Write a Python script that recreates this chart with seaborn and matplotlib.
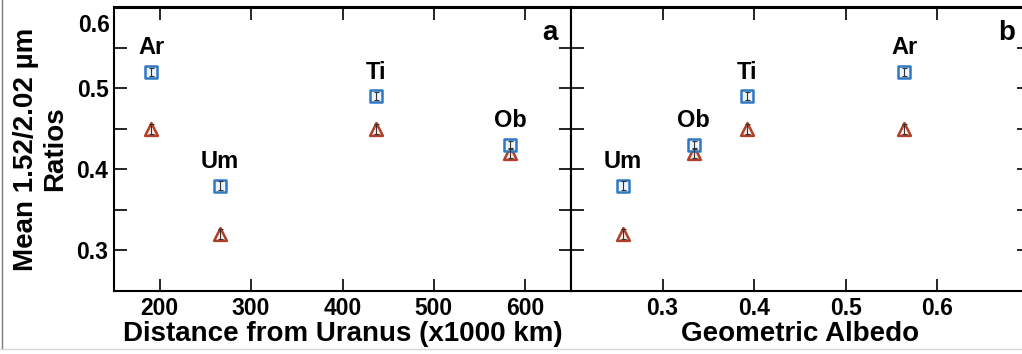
import matplotlib
matplotlib.use("Agg")
import matplotlib.pyplot as plt
from matplotlib.lines import Line2D
import seaborn as sns
import pandas as pd

sns.set_theme(style="white")
plt.rcParams["font.family"] = ["Liberation Sans", "DejaVu Sans"]
plt.rcParams["font.weight"] = "bold"
for key in ["text.color", "axes.labelcolor", "xtick.color", "ytick.color"]:
    plt.rcParams[key] = "black"

# Uranian moons
moons = ["Ar", "Um", "Ti", "Ob"]
distance_kkm = [190.9, 266.0, 436.3, 583.5]
geometric_albedo = [0.564, 0.257, 0.392, 0.334]
ratio_square = [0.52, 0.38, 0.49, 0.43]
ratio_triangle = [0.45, 0.32, 0.45, 0.42]
err_square = [0.005, 0.005, 0.005, 0.005]
err_triangle = [0.006, 0.006, 0.006, 0.006]

df = pd.DataFrame({
    "moon": moons,
    "distance": distance_kkm,
    "albedo": geometric_albedo,
    "sq": ratio_square,
    "tri": ratio_triangle,
    "sq_err": err_square,
    "tri_err": err_triangle,
})

BLUE = "#2f78c4"
RED = "#b0402a"
TICK_FS = 16.5
LABEL_FS = 20

fig = plt.figure(figsize=(10.22, 3.54), dpi=100)
W, H = 1022, 354
bottom_px, top_px = 291, 7
ax_a = fig.add_axes([114 / W, (H - bottom_px) / H, (571 - 114) / W, (bottom_px - top_px) / H])
# panel b runs slightly past the right edge of the canvas
ax_b = fig.add_axes([571 / W, (H - bottom_px) / H, (1029 - 571) / W, (bottom_px - top_px) / H])


def draw_panel(ax, xcol):
    for col, ecol, marker, color, face, size in [
        ("tri", "tri_err", "^", RED, "#fbeee6", 85),
        ("sq", "sq_err", "s", BLUE, "#eef4fb", 75),
    ]:
        ax.errorbar(df[xcol], df[col], yerr=df[ecol], fmt="none",
                    ecolor="#333333", elinewidth=0.8, capsize=1.8, capthick=0.8, zorder=4)
        sns.scatterplot(data=df, x=xcol, y=col, ax=ax, marker=marker, s=size,
                        color=face, edgecolor=color, linewidth=1.8, zorder=3)
    for _, r in df.iterrows():
        ax.annotate(r["moon"], (r[xcol], r["sq"]), xytext=(0, 9),
                    textcoords="offset points", ha="center", va="bottom",
                    fontsize=17, fontweight="bold", color="black")
    ax.set_ylim(0.25, 0.6)
    ax.set_yticks([0.3, 0.35, 0.4, 0.45, 0.5, 0.55, 0.6])
    ax.tick_params(axis="both", which="both", direction="in", length=9, width=1.2,
                   colors="black", top=True, right=True, bottom=True, left=True,
                   labelsize=TICK_FS, pad=4)
    for side in ["left", "right", "top", "bottom"]:
        ax.spines[side].set_visible(True)
        ax.spines[side].set_color("black")
        ax.spines[side].set_linewidth(1.5)
    ax.spines["top"].set_linewidth(2.2)
    ax.set_xlabel("")
    ax.set_ylabel("")


draw_panel(ax_a, "distance")
ax_a.set_xlim(150, 650)
ax_a.set_xticks([200, 300, 400, 500, 600])
ax_a.set_xticklabels(["200", "300", "400", "500", "600"])
ax_a.set_yticklabels(["0.3", "", "0.4", "", "0.5", "", ""])
# the top label sits just below the frame
ax_a.annotate("0.6", xy=(0, 0.6), xycoords=ax_a.get_yaxis_transform(),
              xytext=(-3, -5), textcoords="offset points", ha="right", va="top",
              fontsize=TICK_FS, fontweight="bold")
ax_a.set_xlabel("Distance from Uranus (x1000 km)", fontsize=LABEL_FS, fontweight="bold", labelpad=1)
ax_a.set_ylabel("Mean 1.52/2.02 µm\nRatios", fontsize=LABEL_FS, fontweight="bold",
                linespacing=1.15, labelpad=6)
ax_a.text(0.97, 0.955, "a", transform=ax_a.transAxes, ha="right", va="top",
          fontsize=20, fontweight="bold")

draw_panel(ax_b, "albedo")
ax_b.set_xlim(0.2, 0.7)
ax_b.set_xticks([0.3, 0.4, 0.5, 0.6])
ax_b.set_xticklabels(["0.3", "0.4", "0.5", "0.6"])
ax_b.set_yticklabels([])
ax_b.set_xlabel("Geometric Albedo", fontsize=LABEL_FS, fontweight="bold", labelpad=1)
ax_b.text(0.97, 0.955, "b", transform=ax_b.transAxes, ha="right", va="top",
          fontsize=20, fontweight="bold")

for ax in (ax_a, ax_b):
    for lbl in ax.get_xticklabels() + ax.get_yticklabels():
        lbl.set_fontweight("bold")

# thin outer frame lines on the left and bottom of the figure
fig.add_artist(Line2D([1.5 / W, 1.5 / W], [6 / H, 1.0], transform=fig.transFigure,
                      color="#7a7a7a", linewidth=1.0))
fig.add_artist(Line2D([0, 1], [5 / H, 5 / H], transform=fig.transFigure,
                      color="#d8d8d8", linewidth=1.0))

fig.savefig("out.png", dpi=100, facecolor="white")
